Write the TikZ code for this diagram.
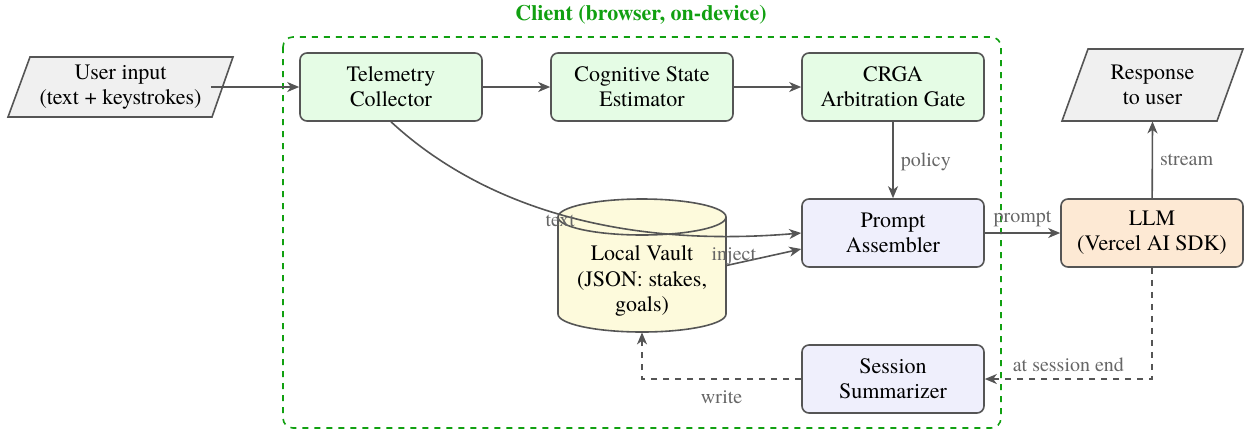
\documentclass[tikz,border=0pt]{standalone}
\usepackage{fontspec}
\setmainfont{texgyretermes}[Extension=.otf, UprightFont=*-regular, BoldFont=*-bold, ItalicFont=*-italic, BoldItalicFont=*-bolditalic]
\usetikzlibrary{arrows.meta,shapes.geometric,calc}
\definecolor{edgec}{HTML}{555555}
\definecolor{labc}{HTML}{666666}
\definecolor{clientc}{HTML}{11A011}
\definecolor{greenf}{HTML}{E5FCE5}
\definecolor{bluef}{HTML}{EFEFFC}
\definecolor{orangef}{HTML}{FDE9D4}
\definecolor{yellowf}{HTML}{FDFADC}
\definecolor{grayf}{HTML}{F0F0F0}
\tikzset{
  txt/.style={font=\fontsize{11}{12.6}\selectfont},
  box/.style={draw=edgec, line width=0.8pt, rounded corners=3.5pt, minimum width=91pt, minimum height=34pt, align=center, txt, inner sep=2pt},
  gbox/.style={box, fill=greenf},
  bbox/.style={box, fill=bluef},
  obox/.style={box, fill=orangef},
  iobox/.style={draw=edgec, line width=0.8pt, fill=grayf},
  conn/.style={draw=edgec, line width=0.8pt, -{Stealth[length=6pt,width=5pt,inset=1.8pt]}},
  dconn/.style={conn, dashed},
  lab/.style={text=labc, font=\fontsize{10}{12}\selectfont, inner sep=1.5pt},
}
\begin{document}
\begin{tikzpicture}[x=0.5pt,y=-0.5pt]
\useasboundingbox (0,0) rectangle (1248,435);
% container
\draw[clientc, line width=0.8pt, dashed, rounded corners=5pt] (283,37) rectangle (1001,428);
\node[text=clientc, font=\bfseries\fontsize{11}{13}\selectfont] (title) at (641,15) {Client (browser, on-device)};
% parallelograms
\draw[iobox] (8,117) -- (30,57) -- (233,57) -- (212,117) -- cycle;
\node[align=center, txt, minimum width=90pt, minimum height=28pt] (user) at (120.5,87) {User input\\(text + keystrokes)};
\draw[iobox] (1062,121) -- (1088,49) -- (1243,49) -- (1217,121) -- cycle;
\node[align=center, txt, minimum width=70pt, minimum height=36pt] (resp) at (1152.5,85) {Response\\to user};
% boxes
\node[gbox] (tele) at (391,87) {Telemetry\\Collector};
\node[gbox] (cog) at (642,87) {Cognitive State\\Estimator};
\node[gbox] (crga) at (893,87) {CRGA\\Arbitration Gate};
\node[bbox] (prompt) at (893,233) {Prompt\\Assembler};
\node[bbox] (sess) at (893,379) {Session\\Summarizer};
\node[obox] (llm) at (1152,233) {LLM\\(Vercel AI SDK)};
% cylinder
\draw[draw=edgec, line width=0.8pt, fill=yellowf] (558,217) -- (558,314) arc[start angle=180, end angle=0, x radius=84, y radius=18] -- (726,217) arc[start angle=0, end angle=-180, x radius=84, y radius=18] -- cycle;
\draw[draw=edgec, line width=0.8pt] (558,217) arc[start angle=180, end angle=0, x radius=84, y radius=18];
\node[minimum width=84pt, minimum height=66.5pt, inner sep=0pt] (vault) at (642,265.5) {};
\node[align=center, txt] (vaulttext) at (642,281) {Local Vault\\(JSON: stakes,\\goals)};
% connectors
\draw[conn] (user) -- (tele);
\draw[conn] (tele) -- (cog);
\draw[conn] (cog) -- (crga);
\draw[conn] (crga) -- node[lab, right, pos=0.5, xshift=2pt, yshift=-1pt] {policy} (prompt);
\draw[conn] (prompt) -- node[lab, above, pos=0.5, yshift=1pt] {prompt} (llm);
\draw[conn] (llm) -- node[lab, right, pos=0.5, xshift=2pt] {stream} (resp.south);
\draw[conn] (tele.south) .. controls (470,195) and (600,250) .. node[lab, pos=0.5, anchor=center, xshift=5pt, yshift=-5pt] {text} (prompt.west);
\draw[conn] (vault.east) -- node[lab, above, pos=0.1, inner sep=0pt, yshift=-1pt] {inject} ([yshift=-8pt]prompt.west);
\draw[dconn] (llm.south) |- node[lab, above, pos=0.75, yshift=2pt] {at session end} (sess.east);
\draw[dconn] (sess.west) -| node[lab, below, pos=0.25, yshift=-4pt] {write} (vault.south);
\end{tikzpicture}
\end{document}
